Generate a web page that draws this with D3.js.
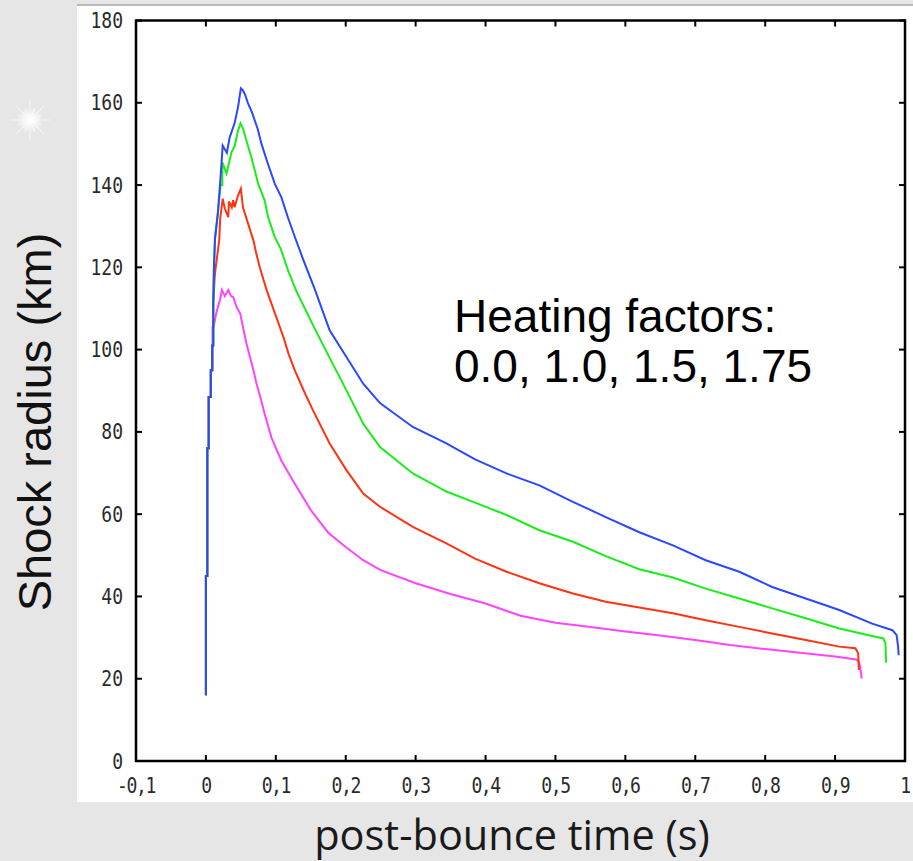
<!DOCTYPE html>
<html><head><meta charset="utf-8">
<script src="https://cdn.jsdelivr.net/npm/d3@7"></script>
<style>html,body{margin:0;padding:0;background:#e6e6e6;overflow:hidden}</style>
</head><body>
<svg id="c" width="913" height="861"></svg>
<script>
// ---- data ----
const xTicks = [-0.1,0,0.1,0.2,0.3,0.4,0.5,0.6,0.7,0.8,0.9,1.0];
const xTickLabels = ["-0,1","0","0,1","0,2","0,3","0,4","0,5","0,6","0,7","0,8","0,9","1"];
const yTicks = [0,20,40,60,80,100,120,140,160,180];
const yTickLabels = ["0","20","40","60","80","100","120","140","160","180"];
const heatingFactors = ["0.0","1.0","1.5","1.75"];
const seriesColors = ["#ff44ff","#ff3311","#19ee19","#2a48ff"];

const commonRise = [[0,16],[0,45],[0.002,45],[0.002,76],[0.004,76],[0.004,88.5],[0.007,88.5],[0.007,95],[0.009,95]];
const sharedStep = [[0.009,101],[0.0105,101],[0.0105,111]];

const heat000 = [[0.0095,95],[0.0095,105.5],[0.011,105.5],[0.015,109],[0.02,112],[0.023,114.5],[0.027,113],[0.032,114.5],[0.036,113],[0.039,112.8],[0.044,110.3],[0.049,108.8],[0.053,105.5],[0.058,101.5],[0.063,98.2],[0.068,95],[0.072,92],[0.077,89],[0.084,84.4],[0.094,78.5],[0.108,73],[0.125,68],[0.15,61],[0.175,55.5],[0.2,52],[0.225,48.8],[0.25,46.4],[0.3,43.2],[0.35,40.6],[0.4,38.3],[0.45,35.3],[0.5,33.6],[0.55,32.6],[0.6,31.5],[0.65,30.5],[0.7,29.4],[0.75,28.2],[0.8,27.2],[0.85,26.3],[0.9,25.4],[0.93,24.7],[0.934,24.1],[0.936,22.9],[0.938,20]];

const heat100 = [[0.0125,117.5],[0.014,120],[0.019,126.5],[0.0205,132],[0.024,136.7],[0.027,134.3],[0.032,132.2],[0.033,136],[0.037,134.6],[0.039,136.3],[0.041,134.6],[0.046,137.5],[0.05,139.1],[0.053,134.6],[0.058,131.9],[0.068,126.5],[0.072,123.4],[0.077,120],[0.087,114.4],[0.099,108.7],[0.111,103],[0.118,99.1],[0.127,95],[0.14,90],[0.153,85.3],[0.177,77.2],[0.201,70.7],[0.225,65],[0.249,61.8],[0.296,56.9],[0.344,52.9],[0.385,49.2],[0.43,46],[0.477,43.2],[0.525,40.7],[0.572,38.7],[0.62,37.3],[0.668,35.9],[0.715,34.2],[0.763,32.6],[0.81,31],[0.858,29.4],[0.906,27.8],[0.929,27.4],[0.933,26.2],[0.934,22.1]];

const heat150 = [[0.0115,120],[0.013,127],[0.017,133],[0.021,140],[0.0235,140],[0.0235,145.5],[0.0295,142.8],[0.0367,148],[0.0414,149.6],[0.046,153.3],[0.0495,155],[0.053,153.7],[0.06,149.6],[0.065,146.8],[0.07,143.5],[0.0748,140.3],[0.084,136.3],[0.089,132.2],[0.0986,127.3],[0.107,124.5],[0.118,119],[0.13,114],[0.153,106],[0.177,98],[0.201,90.1],[0.225,82],[0.249,76.3],[0.296,69.9],[0.344,65.5],[0.385,62.8],[0.43,59.8],[0.477,56.1],[0.525,53.3],[0.572,49.8],[0.62,46.6],[0.668,44.6],[0.715,41.9],[0.763,39.5],[0.81,37.1],[0.858,34.7],[0.906,32.2],[0.953,30.4],[0.969,29.8],[0.972,28.6],[0.973,23.9]];

const heat175 = [[0.0115,120],[0.013,127],[0.017,133],[0.021,142],[0.024,149.6],[0.03,147.8],[0.034,151.6],[0.041,155],[0.046,159],[0.05,163.5],[0.053,163],[0.056,162],[0.06,160],[0.066,157.6],[0.074,153.7],[0.0795,150],[0.089,145],[0.0986,140.3],[0.108,137],[0.1176,132],[0.127,127.5],[0.14,121.5],[0.155,115],[0.177,104.7],[0.201,98.2],[0.225,91.7],[0.249,87],[0.296,81.2],[0.344,77.2],[0.385,73.3],[0.43,69.9],[0.477,67],[0.525,63],[0.572,59.3],[0.62,55.6],[0.668,52.4],[0.715,48.8],[0.763,46],[0.81,42.3],[0.858,39.5],[0.906,36.7],[0.953,33.4],[0.982,31.8],[0.988,30.6],[0.99,28],[0.991,25.7]];

const series = [
  commonRise.concat(heat000),
  commonRise.concat(sharedStep, heat100),
  commonRise.concat(sharedStep, heat150),
  commonRise.concat(sharedStep, heat175)
];

// ---- layout ----
const svg = d3.select("#c");
const L = 136, R = 905, T = 20.5, B = 761;
const x = d3.scaleLinear().domain([-0.1, 1.0]).range([L, R]);
const y = d3.scaleLinear().domain([0, 180]).range([B, T]);

// background decorations
const defs = svg.append("defs");
const rg = defs.append("radialGradient").attr("id","star");
rg.append("stop").attr("offset","0%").attr("stop-color","#ffffff").attr("stop-opacity",1);
rg.append("stop").attr("offset","30%").attr("stop-color","#ffffff").attr("stop-opacity",0.7);
rg.append("stop").attr("offset","100%").attr("stop-color","#ffffff").attr("stop-opacity",0);
svg.append("rect").attr("width",913).attr("height",861).attr("fill","#e6e6e6");
const star = svg.append("g").attr("transform","translate(30,120)");
d3.range(0,180,22.5).forEach(a => {
  const r = (a % 45 === 0) ? 20 : 13;
  const rad = a*Math.PI/180;
  star.append("line").attr("x1",-r*Math.cos(rad)).attr("y1",-r*Math.sin(rad))
    .attr("x2",r*Math.cos(rad)).attr("y2",r*Math.sin(rad))
    .attr("stroke","#ffffff").attr("stroke-opacity",0.55).attr("stroke-width",1.2);
});
star.append("circle").attr("r",13).attr("fill","url(#star)");

// white panel
svg.append("rect").attr("x",77).attr("y",5).attr("width",836).attr("height",797).attr("fill","#ffffff");
svg.append("line").attr("x1",77).attr("x2",913).attr("y1",5).attr("y2",5).attr("stroke","#b8b8b8").attr("stroke-width",2);

// curves
const line = d3.line().x(d => x(d[0])).y(d => y(d[1]));
svg.append("g").selectAll("path").data(series).join("path")
  .attr("d", line).attr("fill","none")
  .attr("stroke",(d,i)=>seriesColors[i]).attr("stroke-width",2)
  .attr("stroke-linejoin","miter");

// frame and ticks
const g = svg.append("g").attr("stroke","#000");
g.append("rect").attr("x",L).attr("y",T).attr("width",R-L).attr("height",B-T)
  .attr("fill","none").attr("stroke-width",2.5);
const tl = 6;
xTicks.forEach(v => {
  g.append("line").attr("x1",x(v)).attr("x2",x(v)).attr("y1",B).attr("y2",B-tl).attr("stroke-width",2);
  g.append("line").attr("x1",x(v)).attr("x2",x(v)).attr("y1",T).attr("y2",T+tl).attr("stroke-width",2);
});
yTicks.forEach(v => {
  g.append("line").attr("x1",L).attr("x2",L+tl).attr("y1",y(v)).attr("y2",y(v)).attr("stroke-width",2);
  g.append("line").attr("x1",R).attr("x2",R-tl).attr("y1",y(v)).attr("y2",y(v)).attr("stroke-width",2);
});

// tick labels
const tickFont = "'DejaVu Sans Mono', monospace";
svg.append("g").selectAll("text").data(yTicks).join("text")
  .attr("transform", d => `translate(123,${y(d)}) scale(0.95,1.1)`)
  .attr("text-anchor","end").attr("dy","0.36em")
  .attr("font-family",tickFont).attr("font-size",19).attr("fill","#2a2a2a")
  .text((d,i)=>yTickLabels[i]);
svg.append("g").selectAll("text").data(xTicks).join("text")
  .attr("transform", d => `translate(${x(d)},785) scale(0.95,1.1)`)
  .attr("text-anchor","middle").attr("dy","0.36em").attr("letter-spacing",-1.5)
  .attr("font-family",tickFont).attr("font-size",19).attr("fill","#2a2a2a")
  .text((d,i)=>xTickLabels[i]);

// axis titles
svg.append("text").attr("x",512).attr("y",850).attr("text-anchor","middle")
  .attr("font-family","'Open Sans', Lato, sans-serif").attr("font-size",41.5).attr("fill","#1a1a1a")
  .text("post-bounce time (s)");
svg.append("text").attr("transform","translate(51,422) rotate(-90)").attr("text-anchor","middle")
  .attr("font-family","'Liberation Sans', Arial, sans-serif").attr("font-size",47).attr("fill","#111")
  .text("Shock radius (km)");

// annotation
const ann = svg.append("g").attr("font-family","'Liberation Sans', Arial, sans-serif")
  .attr("font-size",46).attr("fill","#000");
ann.append("text").attr("x",454).attr("y",332).text("Heating factors:");
ann.append("text").attr("x",454).attr("y",382).text(heatingFactors.join(", "));
</script>
</body></html>
